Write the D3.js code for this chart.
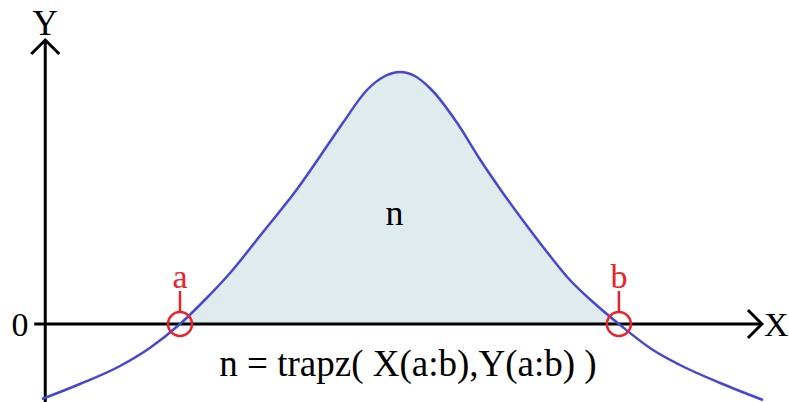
<!DOCTYPE html>
<html>
<head>
<meta charset="utf-8">
<script src="https://cdn.jsdelivr.net/npm/d3@7"></script>
<style>
    html, body { margin: 0; padding: 0; background: #fff; }
    text { font-family: "Liberation Serif", "Times New Roman", serif; }
</style>
</head>
<body>
<div id="chart"></div>
<script>
"use strict";

// curve samples
const curveX = [-6.51, -5.82, -5.09, -4.55, -4.00, -3.55, -3.09, -2.49, -1.87, -1.45, -1.04, -0.60, -0.27, 0,
    0.27, 0.56, 1.04, 1.45, 1.82, 2.31, 2.73, 3.09, 3.55, 3.98, 4.60, 5.09, 5.82, 6.60];
const curveY = [-1.50, -1.20, -0.84, -0.48, 0, 0.48, 1.02, 1.84, 2.70, 3.36, 4.02, 4.68, 4.96, 5.04,
    4.96, 4.70, 4.02, 3.30, 2.70, 1.96, 1.36, 0.88, 0.40, 0, -0.52, -0.82, -1.18, -1.52];

// integration limits
const limitNames = ["a", "b"];
const limitX = [-4.00, 3.98];

// labels
const axisLabels = { x: "X", y: "Y", zero: "0" };
const areaLabel = "n";
const formula = "n = trapz( X(a:b),Y(a:b) )";

// axis extents (data units)
const xAxisExtent = [-6.65, 6.58];
const yAxisExtent = [-1.6, 5.68];
const yAxisAt = -6.45;

const svgWidth = 789,
    svgHeight = 402;

const svg = d3.select("#chart").append("svg")
    .attr("width", svgWidth)
    .attr("height", svgHeight);

const x = d3.scaleLinear().domain([-4, 4]).range([180, 620]);
const y = d3.scaleLinear().domain([0, 5]).range([324, 74]);

const points = curveX.map((d, i) => ({ x: d, y: curveY[i] }));

// shaded region between a and b
const inside = points.filter(p => p.x >= limitX[0] && p.x <= limitX[1]);

svg.append("path")
    .datum(inside)
    .attr("fill", "#e0ebee")
    .attr("d", d3.area()
        .x(d => x(d.x))
        .y0(y(0))
        .y1(d => y(d.y))
        .curve(d3.curveMonotoneX));

// axes
const black = "#000";
const axisWidth = 3;

svg.append("line")
    .attr("x1", x(xAxisExtent[0])).attr("x2", x(xAxisExtent[1]))
    .attr("y1", y(0)).attr("y2", y(0))
    .attr("stroke", black).attr("stroke-width", axisWidth);

svg.append("line")
    .attr("x1", x(yAxisAt)).attr("x2", x(yAxisAt))
    .attr("y1", svgHeight).attr("y2", y(yAxisExtent[1]))
    .attr("stroke", black).attr("stroke-width", axisWidth);

// arrow heads
const arm = 14;
const xTip = [x(xAxisExtent[1]), y(0)];
const yTip = [x(yAxisAt), y(yAxisExtent[1])];

svg.append("path")
    .attr("d", `M${xTip[0] - arm},${xTip[1] - arm}L${xTip[0]},${xTip[1]}L${xTip[0] - arm},${xTip[1] + arm}`)
    .attr("fill", "none").attr("stroke", black).attr("stroke-width", axisWidth);

svg.append("path")
    .attr("d", `M${yTip[0] - arm},${yTip[1] + arm}L${yTip[0]},${yTip[1]}L${yTip[0] + arm},${yTip[1] + arm}`)
    .attr("fill", "none").attr("stroke", black).attr("stroke-width", axisWidth);

// the curve
svg.append("path")
    .datum(points)
    .attr("fill", "none")
    .attr("stroke", "#4747cf")
    .attr("stroke-width", 2.5)
    .attr("d", d3.line()
        .x(d => x(d.x))
        .y(d => y(d.y))
        .curve(d3.curveMonotoneX));

// limit markers
const red = "#e8232b";
const marks = svg.append("g")
    .selectAll("g")
    .data(limitX)
    .enter()
    .append("g");

marks.append("circle")
    .attr("cx", d => x(d))
    .attr("cy", y(0))
    .attr("r", 12)
    .attr("fill", "none")
    .attr("stroke", red)
    .attr("stroke-width", 2.5);

marks.append("line")
    .attr("x1", d => x(d)).attr("x2", d => x(d))
    .attr("y1", y(0) - 12).attr("y2", y(0) - 33)
    .attr("stroke", red).attr("stroke-width", 2.5);

marks.append("text")
    .attr("x", d => x(d))
    .attr("y", y(0) - 36)
    .attr("text-anchor", "middle")
    .attr("font-size", 34)
    .attr("fill", red)
    .text((d, i) => limitNames[i]);

// text labels
svg.append("text")
    .attr("x", yTip[0]).attr("y", 35)
    .attr("text-anchor", "middle")
    .attr("font-size", 35)
    .text(axisLabels.y);

svg.append("text")
    .attr("x", 764).attr("y", y(0) + 12)
    .attr("font-size", 34)
    .text(axisLabels.x);

svg.append("text")
    .attr("x", 20).attr("y", y(0) + 12)
    .attr("text-anchor", "middle")
    .attr("font-size", 34)
    .text(axisLabels.zero);

svg.append("text")
    .attr("x", x(-0.1)).attr("y", 225)
    .attr("text-anchor", "middle")
    .attr("font-size", 36)
    .text(areaLabel);

svg.append("text")
    .attr("x", 408).attr("y", 376)
    .attr("text-anchor", "middle")
    .attr("font-size", 37)
    .text(formula);
</script>
</body>
</html>
